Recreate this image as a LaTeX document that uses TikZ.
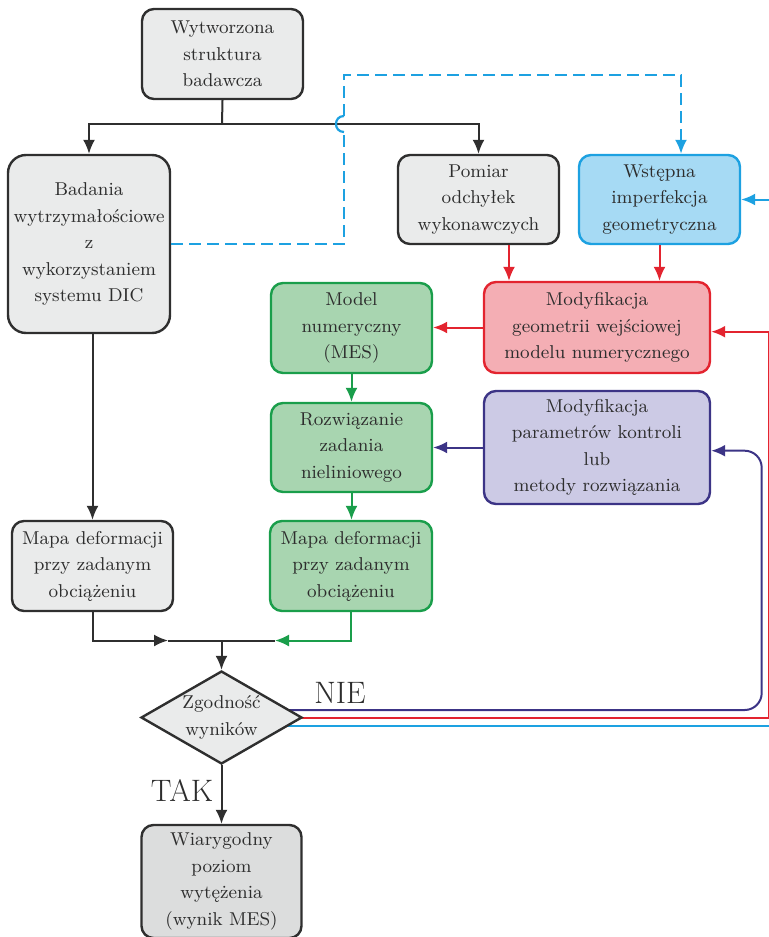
\documentclass[tikz,border=0pt]{standalone}
\usetikzlibrary{arrows.meta,shapes.geometric,backgrounds}

\definecolor{txt}{RGB}{45,45,45}
\definecolor{grayline}{RGB}{47,47,47}
\definecolor{grayfill}{RGB}{234,235,235}
\definecolor{grayfillB}{RGB}{220,221,221}
\definecolor{blueline}{RGB}{29,161,225}
\definecolor{bluefill}{RGB}{166,218,244}
\definecolor{redline}{RGB}{227,36,47}
\definecolor{redfill}{RGB}{244,174,180}
\definecolor{greenline}{RGB}{26,158,75}
\definecolor{greenfill}{RGB}{168,213,176}
\definecolor{purpline}{RGB}{60,52,134}
\definecolor{purpfill}{RGB}{204,202,229}

\begin{document}
\begin{tikzpicture}[x=0.5pt,y=-0.5pt,
  box/.style={draw, rounded corners=6pt, line width=1.2pt, align=center,
    inner sep=0pt, text=txt, font=\fontsize{9.3}{13.25}\selectfont},
  graybox/.style={box, draw=grayline, fill=grayfill},
  bluebox/.style={box, draw=blueline, fill=bluefill},
  redbox/.style={box, draw=redline, fill=redfill},
  greenbox/.style={box, draw=greenline, fill=greenfill},
  purpbox/.style={box, draw=purpline, fill=purpfill},
  conn/.style={line width=1pt, draw=grayline},
  tip/.style={-{Latex[length=7pt,width=6pt]}},
  bigtxt/.style={text=txt, font=\fontsize{15.5}{18}\selectfont, inner sep=0pt}
]
\useasboundingbox (0,0) rectangle (769,937);

% --- boxes ---
\node[graybox, minimum width=80.5pt, minimum height=45pt] (w) at (222.5,54)
  {Wytworzona\\struktura\\badawcza};
\node[graybox, rounded corners=9pt, minimum width=81pt, minimum height=89pt] (b) at (89,244)
  {Badania\\wytrzymałościowe\\z\\wykorzystaniem\\systemu DIC};
\node[graybox, minimum width=80.5pt, minimum height=44.5pt] (p) at (478.5,199.5)
  {Pomiar\\odchyłek\\wykonawczych};
\node[bluebox, minimum width=80.5pt, minimum height=44.5pt] (i) at (659.5,199.5)
  {Wstępna\\imperfekcja\\geometryczna};
\node[redbox, minimum width=113pt, minimum height=45.5pt] (g) at (597,327.5)
  {Modyfikacja\\geometrii wejściowej\\modelu numerycznego};
\node[greenbox, minimum width=80.5pt, minimum height=45pt] (m) at (351.5,328)
  {Model\\numeryczny\\(MES)};
\node[greenbox, minimum width=80.5pt, minimum height=44.5pt] (r) at (351.5,447.5)
  {Rozwiązanie\\zadania\\nieliniowego};
\node[purpbox, minimum width=113pt, minimum height=56.5pt] (k) at (597,447.5)
  {Modyfikacja\\parametrów kontroli\\lub\\metody rozwiązania};
\node[greenbox, minimum width=81pt, minimum height=45pt] (e) at (351,566)
  {Mapa deformacji\\przy zadanym\\obciążeniu};
\node[graybox, minimum width=80.5pt, minimum height=45pt] (f) at (92.5,566)
  {Mapa deformacji\\przy zadanym\\obciążeniu};
\node[diamond, aspect=1.73, draw=grayline, fill=grayfill, line width=1.2pt,
  minimum width=80.5pt, minimum height=46.5pt, inner sep=0pt, align=center,
  text=txt, font=\fontsize{9.3}{13.25}\selectfont] (d) at (221.5,717.5)
  {Zgodność\\wyników};
\node[graybox, fill=grayfillB, minimum width=80pt, minimum height=56.5pt] (v) at (221.5,881.5)
  {Wiarygodny\\poziom\\wytężenia\\(wynik MES)};

% --- labels ---
\node[bigtxt] (nie) at (340,692.5) {NIE};
\node[bigtxt] (tak) at (182,791) {TAK};

% --- main flow ---
\coordinate (split) at (222,124);
\draw[conn] (w.south) -- (split);
\draw[conn,tip] (split) -| (b.north);
\draw[conn,tip] (split) -| (p.north);

% dashed link with a jump over the horizontal line
\coordinate (jlo) at (344,132);
\coordinate (jhi) at (344,116);
\coordinate (dtop) at (344,75);
\draw[line width=1.1pt, draw=blueline, dash pattern=on 6pt off 3pt] (b.east) -| (jlo);
\draw[line width=1.1pt, draw=blueline] (jlo) .. controls (333.3,132) and (333.3,116) .. (jhi);
\draw[line width=1.1pt, draw=blueline, dash pattern=on 6pt off 3pt, tip]
  (jhi) -- (dtop) -| ([xshift=10.75pt]i.north);

% into the geometry modification
\draw[conn, draw=redline, tip] ([xshift=15.25pt]p.south) -- ([xshift=15.25pt]p.south |- g.north);
\draw[conn, draw=redline, tip] (i.south) -- (i.south |- g.north);
\draw[conn, draw=redline, tip] (g.west) -- (m.east |- g.west);
\draw[conn, draw=purpline, tip] (k.west) -- (r.east |- k.west);

% numerical branch
\draw[conn, draw=greenline, tip] (m.south) -- (r.north);
\draw[conn, draw=greenline, tip] (r.south) -- (r.south |- e.north);

% experimental branch
\draw[conn, tip] (f.north |- b.south) -- (f.north);

% merge into the decision
\coordinate (jn) at (221.5,640.5);
\coordinate (tl) at (168,640.5);
\coordinate (tr) at (275,640.5);
\draw[conn, tip] (f.south) |- (tl);
\draw[conn] (tl) -- (tr);
\draw[conn, draw=greenline, tip] (e.south) |- (tr);
\draw[conn, tip] (jn) -- (d.north);
\draw[conn, tip] (d.south) -- (v.north);

% feedback loops (behind the decision diamond)
\coordinate (pc) at (761.7,450.7);
\coordinate (rc) at (769,331.7);
\coordinate (bc) at (790,199.5);
\begin{pgfonlayer}{background}
  \draw[conn, draw=purpline, tip, rounded corners=8.5pt]
    ([yshift=3.75pt]d.center) -| (pc) -- (pc -| k.east);
  \draw[conn, draw=redline, tip] (d.center) -| (rc) -- (rc -| g.east);
  \draw[conn, draw=blueline, tip] ([yshift=-4.25pt]d.center) -| (bc) -- (i.east);
\end{pgfonlayer}
\end{tikzpicture}
\end{document}
